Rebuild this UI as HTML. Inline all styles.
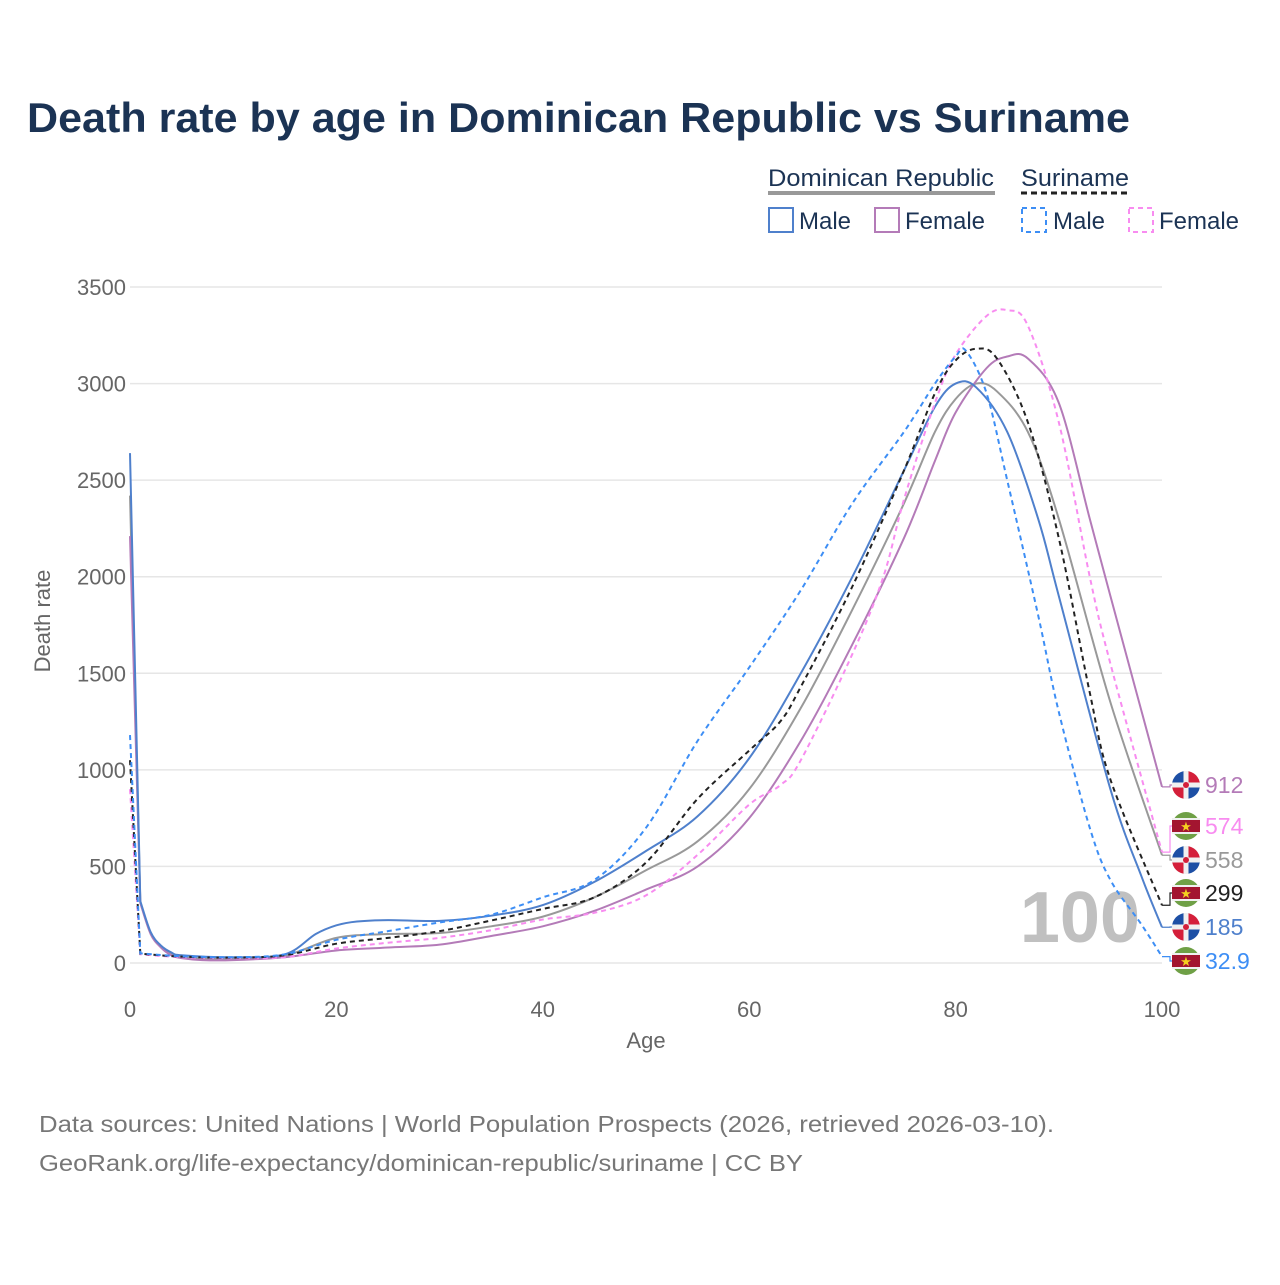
<!DOCTYPE html>
<html><head><meta charset="utf-8">
<style>
body{margin:0;background:#fff;font-family:"Liberation Sans",sans-serif;}
svg text{font-family:"Liberation Sans",sans-serif;}
</style></head>
<body>
<svg id="chart" width="1280" height="1280" xmlns="http://www.w3.org/2000/svg">
<text x="27" y="132" font-size="42" font-weight="bold" fill="#1b3354" textLength="1103" lengthAdjust="spacingAndGlyphs">Death rate by age in Dominican Republic vs Suriname</text>
<g font-size="24" fill="#1b3354">
<text x="768" y="186" textLength="226" lengthAdjust="spacingAndGlyphs">Dominican Republic</text>
<line x1="768" y1="193" x2="995" y2="193" stroke="#999" stroke-width="4"/>
<text x="1021" y="186" textLength="108" lengthAdjust="spacingAndGlyphs">Suriname</text>
<line x1="1021" y1="193" x2="1129" y2="193" stroke="#222" stroke-width="3" stroke-dasharray="6,4"/>
<rect x="769" y="208" width="24" height="24" fill="none" stroke="#4f80cc" stroke-width="2"/>
<text x="799" y="229">Male</text>
<rect x="875" y="208" width="24" height="24" fill="none" stroke="#b47bb8" stroke-width="2"/>
<text x="905" y="229">Female</text>
<rect x="1022" y="208" width="24" height="24" fill="none" stroke="#3d8ef5" stroke-width="2" stroke-dasharray="5,4"/>
<text x="1053" y="229">Male</text>
<rect x="1129" y="208" width="24" height="24" fill="none" stroke="#f88cf0" stroke-width="2" stroke-dasharray="5,4"/>
<text x="1159" y="229">Female</text>
</g>
<g id="grid"></g>
<g id="axes" font-size="22" fill="#666"></g>
<text x="1140" y="942" text-anchor="end" font-size="72" font-weight="bold" fill="#c0c0c0">100</text>
<g id="series"></g>
<g id="endlabels"></g>
<text x="646" y="1048" text-anchor="middle" font-size="22" fill="#666">Age</text>
<text transform="translate(50,621) rotate(-90)" text-anchor="middle" font-size="22" fill="#666">Death rate</text>
<text x="39" y="1132" font-size="23" fill="#777" textLength="1015" lengthAdjust="spacingAndGlyphs">Data sources: United Nations | World Population Prospects (2026, retrieved 2026-03-10).</text>
<text x="39" y="1171" font-size="23" fill="#777" textLength="764" lengthAdjust="spacingAndGlyphs">GeoRank.org/life-expectancy/dominican-republic/suriname | CC BY</text>
</svg>
<script>
const yTicks=[0,500,1000,1500,2000,2500,3000,3500];
const xTicks=[0,20,40,60,80,100];
const drMaleAge=[0,1,2,3,4,5,10,15,18,20,22,25,30,35,40,45,50,55,60,65,70,75,78,80,82,85,88,90,95,98,100];
const drMaleVal=[2640,320,160,90,55,40,30,45,150,195,215,222,218,245,300,420,580,760,1060,1500,2000,2550,2880,3000,2980,2750,2300,1900,900,450,185];
const drFemaleAge=[0,1,2,3,4,5,7,10,15,20,25,30,35,40,45,50,55,60,65,70,75,78,80,83,85,87,90,93,95,100];
const drFemaleVal=[2210,310,150,80,40,25,15,15,30,65,80,95,140,190,270,380,500,750,1150,1650,2200,2600,2850,3080,3140,3130,2900,2300,1900,912];
const drTotalAge=[0,1,2,3,5,10,15,20,25,30,35,40,45,50,55,60,65,70,75,78,80,82,84,87,90,95,100];
const drTotalVal=[2420,315,155,85,32,22,38,130,150,155,190,240,340,480,630,900,1320,1830,2380,2750,2920,3000,2960,2750,2300,1350,558];
const srMaleAge=[0,1,5,10,15,20,25,30,35,40,45,50,55,60,65,70,75,78,80,81,83,85,88,90,93,95,98,100];
const srMaleVal=[1180,50,35,30,45,120,165,210,250,340,430,700,1150,1530,1930,2380,2750,3000,3140,3170,2950,2500,1800,1300,700,430,200,32.9];
const srFemaleAge=[0,1,5,10,15,20,25,30,35,40,45,50,55,60,63,65,70,73,75,78,80,83,85,87,90,93,95,100];
const srFemaleVal=[900,45,30,25,30,75,105,130,170,225,260,350,560,820,920,1050,1600,2000,2400,2900,3150,3350,3380,3300,2800,2000,1550,574];
const srTotalAge=[0,1,5,10,15,20,25,30,35,40,45,50,55,60,63,65,70,75,78,80,82,84,87,90,93,95,100];
const srTotalVal=[1050,48,33,28,40,100,130,165,220,280,340,520,850,1100,1250,1430,1950,2550,2950,3120,3180,3130,2800,2200,1400,950,299];

const X0=130,X1=1162,Y0=963,Y1=287;
const xs=a=>X0+(a/100)*(X1-X0);
const ys=v=>Y0-(v/3500)*(Y0-Y1);
const NS="http://www.w3.org/2000/svg";
function mk(tag,attrs,parent){const e=document.createElementNS(NS,tag);for(const k in attrs)e.setAttribute(k,attrs[k]);parent.appendChild(e);return e;}
const grid=document.getElementById('grid'),axes=document.getElementById('axes');
yTicks.forEach(t=>{
  const l=mk('line',{x1:X0,x2:X1,y1:ys(t),y2:ys(t),stroke:'#e6e6e6','stroke-width':1.5},grid);
  
  
  const tx=mk('text',{x:126,y:ys(t)+8,'text-anchor':'end'},axes);
  tx.textContent=t;
  
  
});
xTicks.forEach(t=>{
  const tx=mk('text',{x:xs(t),y:1017,'text-anchor':'middle'},axes);
  tx.textContent=t;
  
  
});
function pathFor(ages,vals){
  const p=ages.map((a,i)=>[xs(a),ys(vals[i])]);
  let d='M'+p[0][0]+','+p[0][1]+' L'+p[1][0]+','+p[1][1];
  for(let i=1;i<p.length-1;i++){
    const p0=p[i-1<1?1:i-1],p1=p[i],p2=p[i+1],p3=p[i+2]||p2;
    const c1=[p1[0]+(p2[0]-p0[0])/6,p1[1]+(p2[1]-p0[1])/6];
    const c2=[p2[0]-(p3[0]-p1[0])/6,p2[1]-(p3[1]-p1[1])/6];
    d+=' C'+c1+' '+c2+' '+p2;
  }
  return d;
}
const ser=document.getElementById('series');
const defs=[
 ['dr-total',drTotalAge,drTotalVal,'#999',null],
 ['dr-female',drFemaleAge,drFemaleVal,'#b47bb8',null],
 ['dr-male',drMaleAge,drMaleVal,'#4f80cc',null],
 ['sr-female',srFemaleAge,srFemaleVal,'#f88cf0','5,4'],
 ['sr-total',srTotalAge,srTotalVal,'#222','5,4'],
 ['sr-male',srMaleAge,srMaleVal,'#3d8ef5','5,4']];
defs.forEach(s=>{
  const a={d:pathFor(s[1],s[2]),fill:'none',stroke:s[3],'stroke-width':2};
  if(s[4])a['stroke-dasharray']=s[4];
  const p=mk('path',a,ser);
  
  
});
const el=document.getElementById('endlabels');
const labels=[
 [drFemaleVal,'912','#b47bb8','dr',785],
 [srFemaleVal,'574','#f88cf0','sr',826],
 [drTotalVal,'558','#999','dr',860],
 [srTotalVal,'299','#222','sr',893],
 [drMaleVal,'185','#4f80cc','dr',927],
 [srMaleVal,'32.9','#3d8ef5','sr',961]];
labels.forEach(L=>{
  const v=L[0][L[0].length-1];const yv=ys(v);
  mk('path',{d:'M1162,'+yv+' H1170 V'+L[4]+' H1176',fill:'none',stroke:L[2],'stroke-width':1.2},el);
  const g=mk('g',{transform:'translate(1186,'+L[4]+')'},el);
  
  
  if(L[3]==='dr'){
    mk('circle',{r:14,fill:'#f0f0f0'},g);
    mk('path',{d:'M-14,0 A14,14 0 0 1 0,-14 L0,0 Z',fill:'#1d4fa5'},g);
    mk('path',{d:'M0,-14 A14,14 0 0 1 14,0 L0,0 Z',fill:'#d41f3a'},g);
    mk('path',{d:'M-14,0 A14,14 0 0 0 0,14 L0,0 Z',fill:'#d41f3a'},g);
    mk('path',{d:'M0,14 A14,14 0 0 0 14,0 L0,0 Z',fill:'#1d4fa5'},g);
    mk('rect',{x:-2.5,y:-14,width:5,height:28,fill:'#f0f0f0'},g);
    mk('rect',{x:-14,y:-2.5,width:28,height:5,fill:'#f0f0f0'},g);
    mk('circle',{r:3,fill:'#d41f3a'},g);
  }else{
    mk('circle',{r:14,fill:'#6fa046'},g);
    mk('rect',{x:-14,y:-8,width:28,height:16,fill:'#f0f0f0'},g);
    mk('rect',{x:-14,y:-6,width:28,height:12,fill:'#a31530'},g);
    const t=mk('text',{x:0,y:5,'text-anchor':'middle','font-size':13,fill:'#f5d020'},g);t.textContent='★';
  }
  const tx=mk('text',{x:1205,y:L[4]+8,'font-size':23,fill:L[2]},el);
  tx.textContent=L[1];
  
  
});
</script>
</body></html>
